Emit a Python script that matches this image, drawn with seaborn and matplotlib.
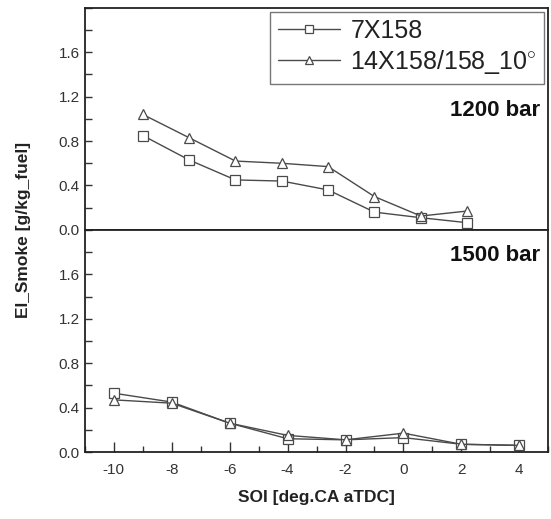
import pandas as pd
import matplotlib.pyplot as plt
import seaborn as sns
from matplotlib.lines import Line2D
from matplotlib.ticker import MultipleLocator

# data
series_names = ["7X158", "14X158/158_10$^{\\circ}$"]

soi_1200 = [-9.0, -7.4, -5.8, -4.2, -2.6, -1.0, 0.6, 2.2]
smoke_1200_7x = [0.85, 0.63, 0.45, 0.44, 0.36, 0.16, 0.11, 0.065]
smoke_1200_14x = [1.04, 0.83, 0.62, 0.60, 0.57, 0.30, 0.125, 0.17]

soi_1500 = [-10, -8, -6, -4, -2, 0, 2, 4]
smoke_1500_7x = [0.53, 0.45, 0.26, 0.12, 0.11, 0.13, 0.07, 0.06]
smoke_1500_14x = [0.47, 0.44, 0.26, 0.15, 0.11, 0.17, 0.07, 0.06]

df_1200 = pd.DataFrame({
    "soi": soi_1200 * 2,
    "smoke": smoke_1200_7x + smoke_1200_14x,
    "nozzle": [series_names[0]] * 8 + [series_names[1]] * 8,
})
df_1500 = pd.DataFrame({
    "soi": soi_1500 * 2,
    "smoke": smoke_1500_7x + smoke_1500_14x,
    "nozzle": [series_names[0]] * 8 + [series_names[1]] * 8,
})

sns.set_style("ticks")
plt.rcParams["font.family"] = ["Liberation Sans", "DejaVu Sans"]
plt.rcParams["axes.unicode_minus"] = False
plt.rcParams["mathtext.fontset"] = "custom"
plt.rcParams["mathtext.rm"] = "Liberation Sans"

line_col = "#4a4a4a"
markers = {series_names[0]: "s", series_names[1]: "^"}

fig = plt.figure(figsize=(5.51, 5.19), dpi=100)
ax_top = fig.add_axes([0.154, 0.557, 0.841, 0.428])
ax_bot = fig.add_axes([0.154, 0.129, 0.841, 0.428])

for ax, df in [(ax_top, df_1200), (ax_bot, df_1500)]:
    sns.lineplot(data=df, x="soi", y="smoke", hue="nozzle", style="nozzle",
                 markers=markers, dashes=False,
                 palette=[line_col, line_col], ax=ax, legend=False,
                 linewidth=1.0, markersize=7.5, markerfacecolor="white",
                 markeredgecolor=line_col, markeredgewidth=0.9)
    ax.set_xlim(-11, 5)
    ax.set_ylim(0, 2.0)
    ax.set_xlabel("")
    ax.set_ylabel("")
    ax.yaxis.set_major_locator(MultipleLocator(0.4))
    ax.yaxis.set_minor_locator(MultipleLocator(0.2))
    ax.yaxis.set_major_formatter(plt.FormatStrFormatter("%.1f"))
    ax.tick_params(axis="y", which="both", direction="in", left=True, right=False,
                   length=5, width=1, labelsize=11, labelcolor="#333333", color="#333333")
    for s in ax.spines.values():
        s.set_visible(True)
        s.set_linewidth(1.3)
        s.set_color("#222222")

ax_top.set_yticks([0.0, 0.4, 0.8, 1.2, 1.6])
ax_bot.set_yticks([0.0, 0.4, 0.8, 1.2, 1.6])

ax_top.tick_params(axis="x", which="both", bottom=False, top=False, labelbottom=False)
ax_bot.xaxis.set_major_locator(MultipleLocator(2))
ax_bot.xaxis.set_minor_locator(MultipleLocator(1))
ax_bot.tick_params(axis="x", which="major", direction="in", length=7, width=1,
                   top=False, labelsize=11, labelcolor="#333333", color="#333333", pad=8)
ax_bot.tick_params(axis="x", which="minor", direction="in", length=4, width=1,
                   top=False, color="#333333")

ax_top.text(0.983, 0.536, "1200 bar", transform=ax_top.transAxes, ha="right",
            va="center", fontsize=16, fontweight="bold", color="#111111")
ax_bot.text(0.983, 0.883, "1500 bar", transform=ax_bot.transAxes, ha="right",
            va="center", fontsize=16, fontweight="bold", color="#111111")

handles = [Line2D([], [], color=line_col, lw=1.0, marker=markers[n], markersize=5.5,
                  markerfacecolor="white", markeredgecolor=line_col, markeredgewidth=0.9)
           for n in series_names]
leg = ax_top.legend(handles, series_names, loc="upper right", fontsize=18,
                    frameon=True, fancybox=False, borderaxespad=0.15,
                    handlelength=2.5, handletextpad=0.4, borderpad=0.3,
                    labelspacing=0.2)
leg.get_frame().set_edgecolor("#555555")
leg.get_frame().set_linewidth(1.0)
for t in leg.get_texts():
    t.set_color("#222222")

fig.text(0.042, 0.557, "EI_Smoke [g/kg_fuel]", rotation=90, ha="center", va="center",
         fontsize=12.5, fontweight="bold", color="#222222")
fig.text(0.574, 0.042, "SOI [deg.CA aTDC]", ha="center", va="center",
         fontsize=12.5, fontweight="bold", color="#222222")

fig.savefig("out.png", dpi=100)
